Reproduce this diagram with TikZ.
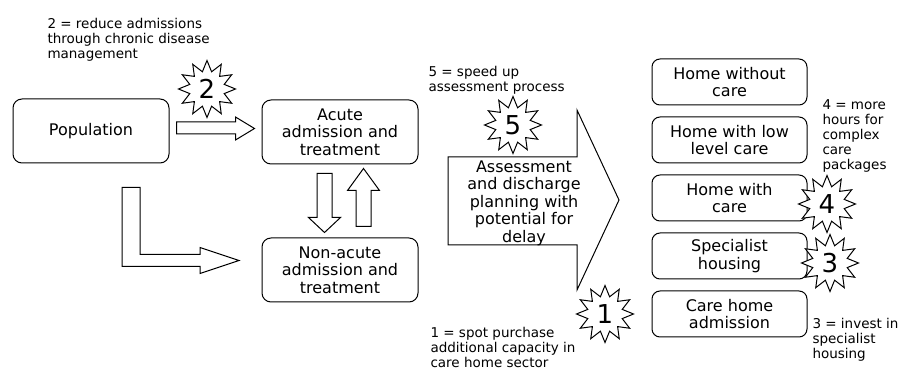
\documentclass[tikz,border=0pt]{standalone}
\usepackage{fontspec}
\setmainfont{DejaVu Sans}
\usetikzlibrary{calc,shapes.geometric}

\begin{document}
\begin{tikzpicture}[x=1pt, y=-1pt, line width=1pt,
   box/.style={draw, rounded corners=9pt, minimum width=156pt, minimum height=64pt,
               align=center, font=\fontsize{16}{17.5}\selectfont},
   stagebox/.style={box, rounded corners=8pt, minimum width=155pt, minimum height=46pt},
   note/.style={anchor=west, align=left, inner sep=0pt, font=\fontsize{13.5}{15}\selectfont},
   fat/.style={draw, fill=white},
   burst/.style={draw, fill=white, star, star points=12, star point ratio=1.6,
                 minimum size=57pt, inner sep=0pt, font=\fontsize{26}{26}\selectfont}]
  \useasboundingbox (0,0) rectangle (908,371);

  % admission side
  \node[box] (pop)      at (91,131)  {Population};
  \node[box] (acute)    at (340,132) {Acute\\admission and\\treatment};
  \node[box] (nonacute) at (340,270) {Non-acute\\admission and\\treatment};

  \draw[fat] ($(pop.east)+(7,-9)$) -- ++(59,0) -- ++(0,-5) -- ++(19,11.5)
    -- ++(-19,11.5) -- ++(0,-6) -- ++(-59,0) -- cycle;
  \draw[fat] ($(pop.south)+(31,24)$) -- ++(18,0) -- ++(0,67) -- ++(60,0) -- ++(0,-7)
    -- ++(39,13) -- ++(-39,13) -- ++(0,-7) -- ++(-78,0) -- cycle;
  \draw[fat] ($(acute.south)+(-23,9)$) -- ++(15,0) -- ++(0,44) -- ++(8.5,0)
    -- ++(-16,15) -- ++(-16,-15) -- ++(8.5,0) -- cycle;
  \draw[fat] ($(nonacute.north)+(16,-11)$) -- ++(15,0) -- ++(0,-36) -- ++(8.5,0)
    -- ++(-16,-22) -- ++(-16,22) -- ++(8.5,0) -- cycle;

  % discharge
  \draw[fat] (448,157) -- (577,157) -- (577,110) -- (619,200) -- (577,290)
    -- (577,245) -- (448,245) -- cycle;
  \node[align=center, font=\fontsize{16}{17.5}\selectfont] (assess) at (524,203)
    {Assessment\\and discharge\\planning with\\potential for\\delay};

  % destinations
  \node[stagebox] (nocare)     at (729.5,82)  {Home without\\care};
  \node[stagebox] (lowcare)    at (729.5,140) {Home with low\\level care};
  \node[stagebox] (care)       at (729.5,198) {Home with\\care};
  \node[stagebox] (specialist) at (729.5,256) {Specialist\\housing};
  \node[stagebox] (carehome)   at (729.5,314) {Care home\\admission};

  % interventions
  \node[burst] (b2) at (207,89)  {2};
  \node[burst] (b5) at (513,125) {5};
  \node[burst] (b1) at (605,314) {1};
  \node[burst] (b4) at (827,204) {4};
  \node[burst] (b3) at (830,263) {3};

  \node[note] (n2) at (47,40)   {2 = reduce admissions\\through chronic disease\\management};
  \node[note] (n5) at (428,80)  {5 = speed up\\assessment process};
  \node[note] (n1) at (430,347) {1 = spot purchase\\additional capacity in\\care home sector};
  \node[note] (n4) at (822,136) {4 = more\\hours for\\complex\\care\\packages};
  \node[note] (n3) at (812,340) {3 = invest in\\specialist\\housing};
\end{tikzpicture}
\end{document}
